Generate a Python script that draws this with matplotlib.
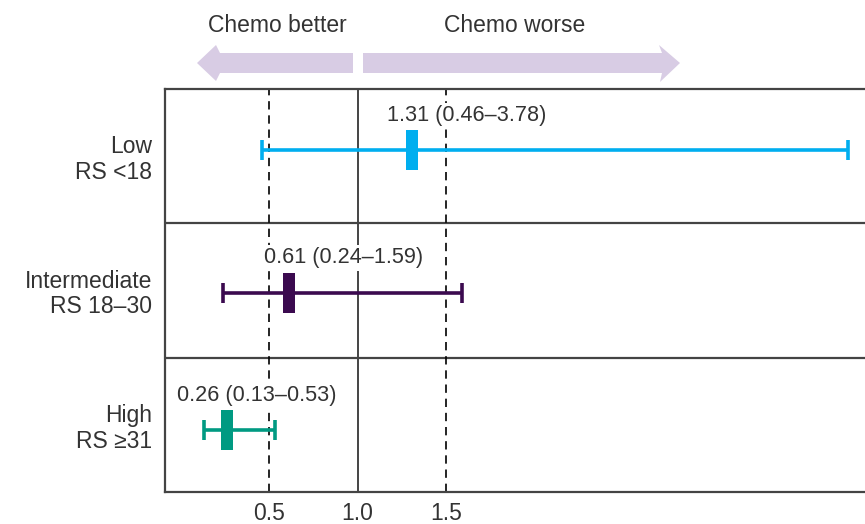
import matplotlib
matplotlib.use("Agg")
import matplotlib.pyplot as plt
from matplotlib.patches import Polygon

plt.rcParams["font.family"] = ["Liberation Sans", "DejaVu Sans"]

# Hazard ratios with 95% CI by recurrence-score group
groups = ["Low\nRS <18", "Intermediate\nRS 18–30", "High\nRS ≥31"]
hr = [1.31, 0.61, 0.26]
ci_low = [0.46, 0.24, 0.13]
ci_high = [3.78, 1.59, 0.53]
colors = ["#00aeef", "#3b0a4f", "#009a82"]
xticks = [0.5, 1.0, 1.5]
xtick_labels = ["0.5", "1.0", "1.5"]

# Layout (row centres, marker heights, label offsets in pixels)
row_center = [2.5, 1.5, 0.5]
mark_y = [2.54, 1.48, 0.46]
label_dx_px = [-25, -25, -50]
label_dy_px = 35

W, H = 865, 524
TEXT = "#333333"
LINE = "#444444"
FS = 16.5
FS_VAL = 15.6

fig = plt.figure(figsize=(W / 100, H / 100), dpi=100)
ax_left, ax_bottom, ax_top = 165, 492, 88.5
ax = fig.add_axes([ax_left / W, (H - ax_bottom) / H, 1 - ax_left / W, (ax_bottom - ax_top) / H])
ax.set_xlim(-0.091, 3.875)
ax.set_ylim(0, 3)

for side in ["left", "top", "bottom"]:
    ax.spines[side].set_color(LINE)
    ax.spines[side].set_linewidth(1.6)
ax.spines["right"].set_visible(False)

# Row separators
for y in [1, 2]:
    ax.axhline(y, color=LINE, lw=1.6, zorder=1)

# Reference lines
ax.axvline(1.0, color=LINE, lw=1.4, zorder=1)
for x in [0.5, 1.5]:
    ax.axvline(x, color="black", lw=1.2, ls=(0, (5, 3.5)), zorder=1)

# Confidence intervals and point estimates
px_to_pt = 72 / 100
for i in range(len(hr)):
    y = mark_y[i]
    ax.errorbar(hr[i], y, xerr=[[hr[i] - ci_low[i]], [ci_high[i] - hr[i]]],
                fmt="none", ecolor=colors[i], elinewidth=2.6, capsize=7,
                capthick=2.6, zorder=3)
    ax.plot([hr[i], hr[i]], [y - 0.148, y + 0.148], color=colors[i],
            lw=12 * px_to_pt, solid_capstyle="butt", zorder=4)
    ax.annotate(f"{hr[i]:.2f} ({ci_low[i]:.2f}–{ci_high[i]:.2f})",
                xy=(hr[i], y), xytext=(label_dx_px[i] * px_to_pt, label_dy_px * px_to_pt),
                textcoords="offset points", ha="left", va="center",
                fontsize=FS_VAL, color=TEXT, zorder=5,
                bbox=dict(facecolor="white", edgecolor="none", pad=1.5))

ax.set_yticks(row_center)
ax.set_yticklabels(groups, fontsize=FS, color=TEXT, linespacing=1.15)
ax.set_xticks(xticks)
ax.set_xticklabels(xtick_labels, fontsize=FS, color=TEXT)
ax.tick_params(axis="y", length=0, pad=9.5)
ax.tick_params(axis="x", length=0, pad=7.5)


# Direction arrows above the plot (pixel coordinates, origin top-left)
def to_fig(pts):
    return [(x / W, 1 - y / H) for x, y in pts]


arrow_color = "#d8cce4"
left_arrow = [(353, 53), (220, 53), (216, 45), (197, 63), (216, 81), (220, 73), (353, 73)]
right_arrow = [(363, 53), (662, 53), (659, 45), (680, 63), (660, 82), (662, 73), (363, 73)]
for pts in (left_arrow, right_arrow):
    fig.patches.append(Polygon(to_fig(pts), closed=True, facecolor=arrow_color,
                               edgecolor="none", transform=fig.transFigure))

fig.text(277 / W, 1 - 25 / H, "Chemo better", ha="center", va="center", fontsize=FS, color=TEXT)
fig.text(515 / W, 1 - 25 / H, "Chemo worse", ha="center", va="center", fontsize=FS, color=TEXT)

fig.savefig("out.png", dpi=100)
